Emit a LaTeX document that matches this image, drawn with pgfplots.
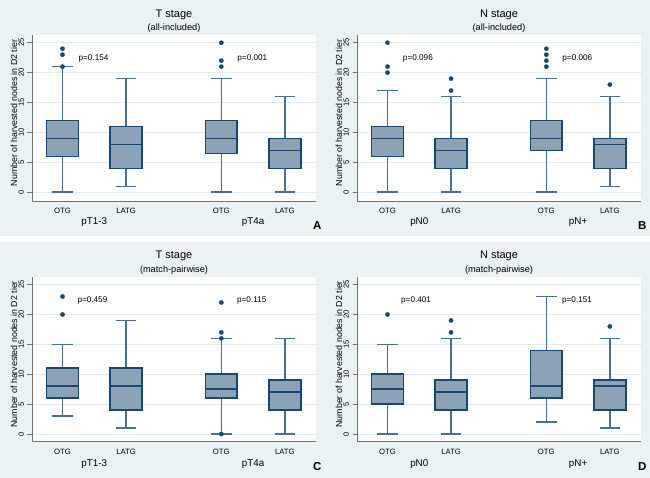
\documentclass[border=0pt]{standalone}
\usepackage{fontspec}
\setmainfont{Liberation Sans}
\usepackage{pgfplots}
\pgfplotsset{compat=1.18}
\usepgfplotslibrary{statistics}

\definecolor{navy}{RGB}{26,71,111}
\definecolor{bgc}{RGB}{234,242,243}
\definecolor{gridc}{RGB}{226,236,238}
\definecolor{axc}{RGB}{115,115,115}
\newcommand{\fs}[1]{\fontsize{#1}{#1}\selectfont}

\pgfplotsset{
  panel/.style={
    scale only axis, width=284pt, anchor=south west,
    xmin=0.52, xmax=4.99,
    axis x line*=bottom, axis y line*=left,
    axis line style={draw=axc, line width=0.7pt},
    axis background/.style={fill=white},
    xtick={1,2,3.5,4.5}, xticklabels={OTG,LATG,OTG,LATG},
    x tick style={draw=none},
    ytick={0,5,...,25},
    ymajorgrids, grid style={draw=gridc, line width=0.9pt},
    tick align=outside, major tick length=4.5pt,
    y tick style={draw=axc, line width=0.7pt},
    yticklabel style={rotate=90, anchor=south, font=\fs{7.6}},
    xticklabel style={font=\fs{7.7}, yshift=1pt},
    ylabel={Number of harvested nodes in D2 tier},
    ylabel style={font=\fs{8.8}, at={(axis description cs:-0.0634,0.53)}, anchor=center},
    /pgf/number format/assume math mode=true,
    clip=false,
  },
  bx/.style={draw=navy!80, line width=1.5pt, mark=*, mark size=2.2pt,
    mark options={draw=navy, fill=navy, line width=0.2pt},
    boxplot/draw direction=y,
    boxplot/box extend=0.5, boxplot/whisker extend=0.32,
    boxplot/every box/.style={draw=navy, fill=navy!50, line width=1.5pt},
    boxplot/every median/.style={draw=navy, line width=1.4pt},
    boxplot/every whisker/.style={draw=navy!78, line width=1.6pt}},
}
\tikzset{
  ttl/.style={font=\fs{11}},
  sub/.style={font=\fs{9.2}},
  grp/.style={font=\fs{9.8}},
  pv/.style={font=\fs{8.2}, anchor=west, inner sep=0pt},
  let/.style={font=\bfseries\fs{11.5}},
}

\begin{document}
\begin{tikzpicture}[x=1pt,y=1pt]
\path[use as bounding box] (0,0) rectangle (650,478);
\fill[white] (0,0) rectangle (650,478);
\fill[bgc] (0,242) rectangle (650,478);
\fill[bgc] (0,0) rectangle (650,236);

% A: T stage, all-included
\begin{axis}[panel, at={(32pt,277pt)}, height=166pt, ymin=-1.454, ymax=26.29]
\addplot[bx, boxplot prepared={draw position=1, lower whisker=0, lower quartile=6, median=9, upper quartile=12, upper whisker=21}]
  table[row sep=\\, y index=0] {y\\ 21\\ 23\\ 24\\};
\addplot[bx, boxplot prepared={draw position=2, lower whisker=1, lower quartile=4, median=8, upper quartile=11, upper whisker=19}]
  coordinates {};
\addplot[bx, boxplot prepared={draw position=3.5, lower whisker=0, lower quartile=6.5, median=9, upper quartile=12, upper whisker=19}]
  table[row sep=\\, y index=0] {y\\ 21\\ 22\\ 25\\};
\addplot[bx, boxplot prepared={draw position=4.5, lower whisker=0, lower quartile=4, median=7, upper quartile=9, upper whisker=16}]
  coordinates {};
\node[ttl] at (axis description cs:0.5,1.1205) {T stage};
\node[sub] at (axis description cs:0.5,1.0404) {(all-included)};
\node[grp] at (axis cs:1.5,-5.05) {pT1-3};
\node[grp] at (axis cs:4,-5.05) {pT4a};
\node[pv] at (axis cs:1.25,22.3) {p=0.154};
\node[pv] at (axis cs:3.75,22.3) {p=0.001};
\node[let] at (axis description cs:1.0046,-0.149) {A};
\end{axis}

% B: N stage, all-included
\begin{axis}[panel, at={(357pt,277pt)}, height=166pt, ymin=-1.454, ymax=26.29]
\addplot[bx, boxplot prepared={draw position=1, lower whisker=0, lower quartile=6, median=9, upper quartile=11, upper whisker=17}]
  table[row sep=\\, y index=0] {y\\ 20\\ 21\\ 25\\};
\addplot[bx, boxplot prepared={draw position=2, lower whisker=0, lower quartile=4, median=7, upper quartile=9, upper whisker=16}]
  table[row sep=\\, y index=0] {y\\ 17\\ 19\\};
\addplot[bx, boxplot prepared={draw position=3.5, lower whisker=0, lower quartile=7, median=9, upper quartile=12, upper whisker=19}]
  table[row sep=\\, y index=0] {y\\ 21\\ 22\\ 23\\ 24\\};
\addplot[bx, boxplot prepared={draw position=4.5, lower whisker=1, lower quartile=4, median=8, upper quartile=9, upper whisker=16}]
  table[row sep=\\, y index=0] {y\\ 18\\};
\node[ttl] at (axis description cs:0.5,1.1205) {N stage};
\node[sub] at (axis description cs:0.5,1.0404) {(all-included)};
\node[grp] at (axis cs:1.5,-5.05) {pN0};
\node[grp] at (axis cs:4,-5.05) {pN+};
\node[pv] at (axis cs:1.24,22.3) {p=0.096};
\node[pv] at (axis cs:3.75,22.3) {p=0.006};
\node[let] at (axis description cs:1.0046,-0.149) {B};
\end{axis}

% C: T stage, match-pairwise
\begin{axis}[panel, at={(32pt,36.3pt)}, height=165pt, ymin=-1.29, ymax=26.32]
\addplot[bx, boxplot prepared={draw position=1, lower whisker=3, lower quartile=6, median=8, upper quartile=11, upper whisker=15}]
  table[row sep=\\, y index=0] {y\\ 20\\ 23\\};
\addplot[bx, boxplot prepared={draw position=2, lower whisker=1, lower quartile=4, median=8, upper quartile=11, upper whisker=19}]
  coordinates {};
\addplot[bx, boxplot prepared={draw position=3.5, lower whisker=0, lower quartile=6, median=7.5, upper quartile=10, upper whisker=16}]
  table[row sep=\\, y index=0] {y\\ 0\\ 16\\ 17\\ 22\\};
\addplot[bx, boxplot prepared={draw position=4.5, lower whisker=0, lower quartile=4, median=7, upper quartile=9, upper whisker=16}]
  coordinates {};
\node[ttl] at (axis description cs:0.5,1.124) {T stage};
\node[sub] at (axis description cs:0.5,1.041) {(match-pairwise)};
\node[grp] at (axis cs:1.5,-5.05) {pT1-3};
\node[grp] at (axis cs:4,-5.05) {pT4a};
\node[pv] at (axis cs:1.233,22.3) {p=0.459};
\node[pv] at (axis cs:3.745,22.3) {p=0.115};
\node[let] at (axis description cs:1.0046,-0.151) {C};
\end{axis}

% D: N stage, match-pairwise
\begin{axis}[panel, at={(357pt,36.3pt)}, height=165pt, ymin=-1.29, ymax=26.32]
\addplot[bx, boxplot prepared={draw position=1, lower whisker=0, lower quartile=5, median=7.5, upper quartile=10, upper whisker=15}]
  table[row sep=\\, y index=0] {y\\ 20\\};
\addplot[bx, boxplot prepared={draw position=2, lower whisker=0, lower quartile=4, median=7, upper quartile=9, upper whisker=16}]
  table[row sep=\\, y index=0] {y\\ 17\\ 19\\};
\addplot[bx, boxplot prepared={draw position=3.5, lower whisker=2, lower quartile=6, median=8, upper quartile=14, upper whisker=23}]
  coordinates {};
\addplot[bx, boxplot prepared={draw position=4.5, lower whisker=1, lower quartile=4, median=8, upper quartile=9, upper whisker=16}]
  table[row sep=\\, y index=0] {y\\ 18\\};
\node[ttl] at (axis description cs:0.5,1.124) {N stage};
\node[sub] at (axis description cs:0.5,1.041) {(match-pairwise)};
\node[grp] at (axis cs:1.5,-5.05) {pN0};
\node[grp] at (axis cs:4,-5.05) {pN+};
\node[pv] at (axis cs:1.212,22.3) {p=0.401};
\node[pv] at (axis cs:3.745,22.3) {p=0.151};
\node[let] at (axis description cs:1.0046,-0.151) {D};
\end{axis}
\end{tikzpicture}
\end{document}
